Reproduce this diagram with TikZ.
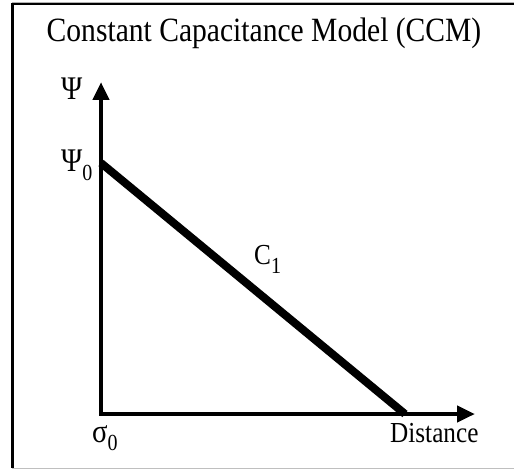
\documentclass[tikz,border=0pt]{standalone}
\usepackage{fontspec}
\setmainfont[FakeStretch=0.87]{Liberation Serif}
\usetikzlibrary{arrows.meta}
\newcommand\mysub[1]{\raisebox{-0.3em}{\fontsize{23}{23}\selectfont #1}}
\newcommand\gk[1]{{\fontsize{33}{33}\selectfont #1}}
\tikzset{
  axis/.style={line width=4.5pt, {Triangle[length=18pt,width=16pt]}-{Triangle[length=18pt,width=16pt]}},
  curve/.style={line width=8pt},
  lab/.style={inner sep=0pt, anchor=base west, font=\fontsize{29}{29}\selectfont},
}
\begin{document}
\begin{tikzpicture}[x=1pt,y=-1pt]
\useasboundingbox (0,0) rectangle (514,470);
\fill[white] (0,0) rectangle (514,470);
% frame
\draw[gray!60, line width=1pt] (12,2.5) -- (514,2.5);
\draw[black, line width=2pt] (12,4.5) -- (514,4.5);
\draw[black, line width=2.5pt] (12.5,3.5) -- (12.5,468);
\draw[gray!50, line width=1.5pt] (12,468.5) -- (514,468.5);
% title
\node[inner sep=0pt, anchor=base, font=\fontsize{34}{34}\selectfont] (title) at (264,42) {Constant Capacitance Model (CCM)};
% axes
\coordinate (ytop) at (101,82);
\coordinate (O) at (101,414);
\coordinate (xend) at (475,414);
\coordinate (p0) at (101,163);
\coordinate (d0) at (405,414);
\draw[axis] (ytop) -- (O) -- (xend);
\draw[curve] (p0) -- (d0);
% labels
\node[lab] (psi) at (61,100) {\gk{Ψ}};
\node[lab] (psi0) at (61,172) {\gk{Ψ}\mysub{0}};
\node[lab] (sigma0) at (92,442) {\gk{σ}\mysub{0}};
\node[lab] (dist) at (390,442) {Distance};
\node[lab] (c1) at (254,265) {C\mysub{1}};
\end{tikzpicture}
\end{document}
